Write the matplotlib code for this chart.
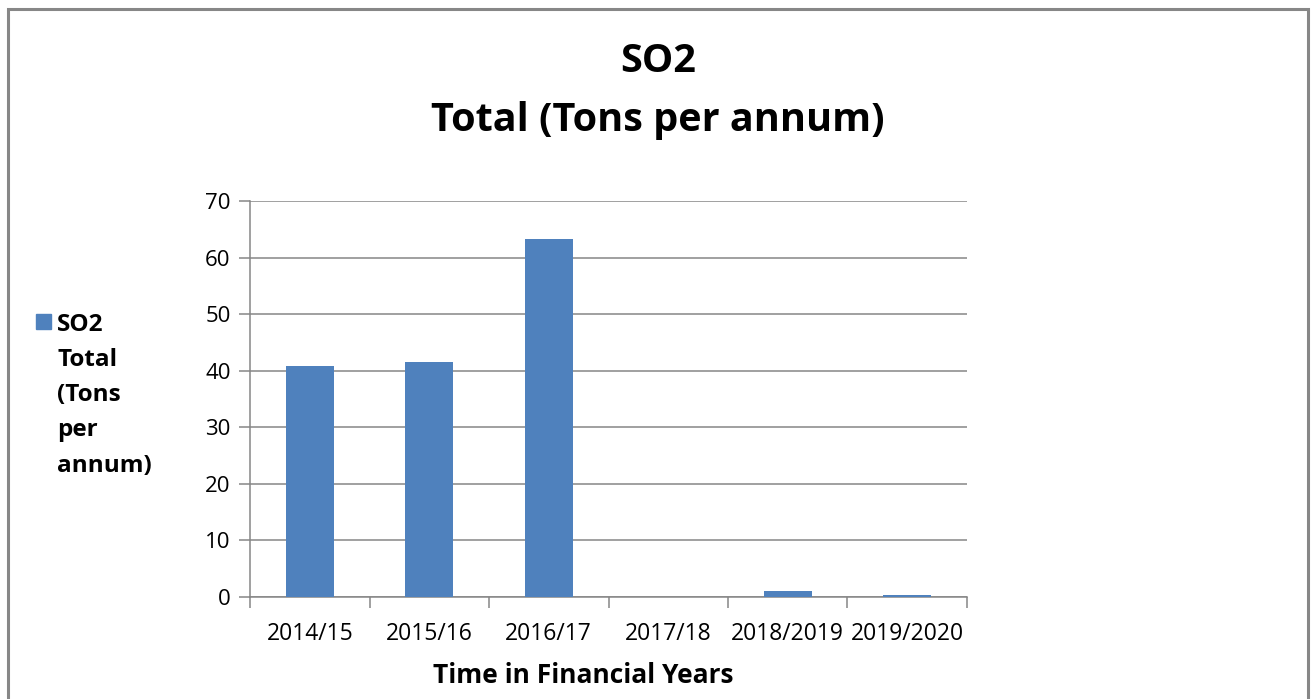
import numpy as np
import matplotlib
matplotlib.use('Agg')
import matplotlib.pyplot as plt
from matplotlib.patches import Rectangle

years = ['2014/15', '2015/16', '2016/17', '2017/18', '2018/2019', '2019/2020']
so2_total = [40.8, 41.5, 63.2, 0.0, 1.1, 0.3]

bar_color = '#4F81BD'
grid_color = '#868686'

plt.rcParams['font.family'] = ['Open Sans', 'DejaVu Sans']

fig = plt.figure(figsize=(13.14, 6.99), dpi=100)
W, H = 1314.0, 699.0

# outer chart border (bottom edge runs off the image)
fig.patches.append(Rectangle((7.5 / W, -0.05), (1308 - 7.5) / W, 1.05 - 8.5 / H,
                             transform=fig.transFigure, fill=False,
                             edgecolor='#878787', linewidth=2.2))

ax = fig.add_axes([250 / W, 1 - 597 / H, (967 - 250) / W, (597 - 201) / H])
x = np.arange(len(years))
ax.bar(x, so2_total, width=0.4, color=bar_color, zorder=3)

ax.set_xlim(-0.5, len(years) - 0.5)
ax.set_ylim(0, 70)
ax.set_yticks(np.arange(0, 71, 10))
ax.yaxis.grid(True, color=grid_color, linewidth=1.1)
ax.set_axisbelow(True)

ax.set_xticks(x)
ax.set_xticklabels(years, fontsize=16.5)
ax.tick_params(axis='x', length=0, pad=18)
ax.set_xticks(np.arange(-0.5, len(years)), minor=True)
ax.tick_params(axis='x', which='minor', length=8, color=grid_color, width=1.1)
ax.tick_params(axis='y', length=8, color=grid_color, width=1.1, labelsize=16, pad=6)

for s in ['top', 'right']:
    ax.spines[s].set_visible(False)
for s in ['left', 'bottom']:
    ax.spines[s].set_color(grid_color)
    ax.spines[s].set_linewidth(1.1)

ax.set_xlabel('Time in Financial Years', fontsize=19, fontweight='bold')
ax.xaxis.set_label_coords(0.465, -0.163)

fig.text(658 / W, 1 - 62 / H, 'SO2', fontsize=28.5, fontweight='bold', ha='center', va='center')
fig.text(658 / W, 1 - 120 / H, 'Total (Tons per annum)', fontsize=28.5, fontweight='bold',
         ha='center', va='center')

# legend
fig.patches.append(Rectangle((36 / W, 1 - 329 / H), 15 / W, 15 / H,
                             transform=fig.transFigure, color=bar_color))
fig.text(57 / W, 1 - 313 / H, 'SO2\nTotal\n(Tons\nper\nannum)', fontsize=17.5,
         fontweight='bold', ha='left', va='top', linespacing=1.62)

fig.savefig('out.png', dpi=100)
